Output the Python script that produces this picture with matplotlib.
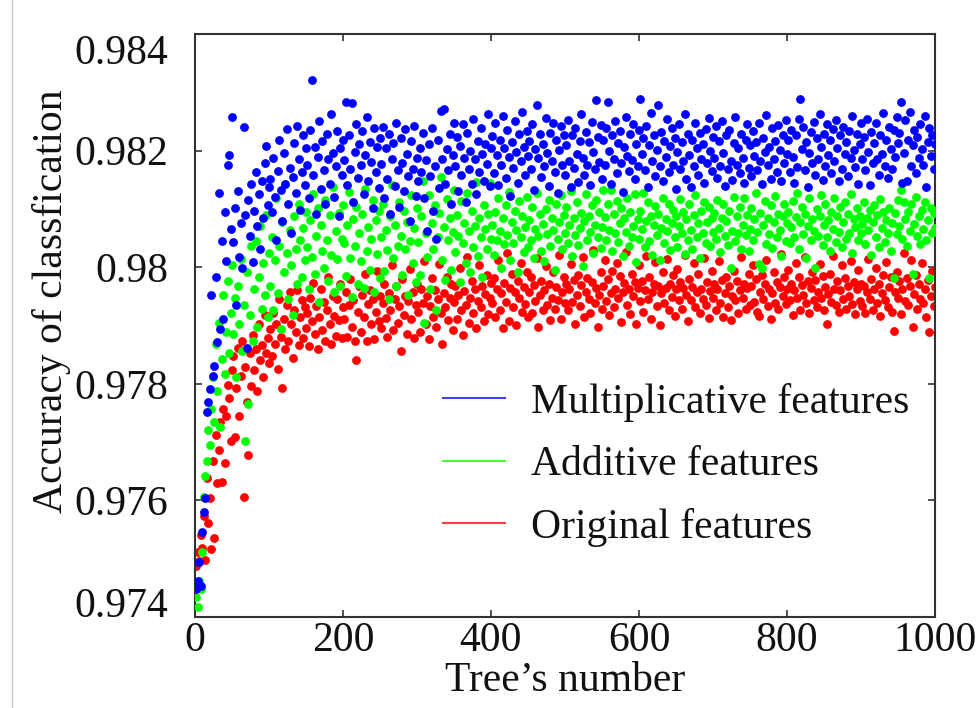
import numpy as np
import matplotlib
matplotlib.use('Agg')
import matplotlib.pyplot as plt
from matplotlib.lines import Line2D

# ---------------- data (every 2nd tree) ----------------
MULT = [
.97448,.97462,.97495,.97453,.97545,.97580,.97604,.97752,.97768,.97791,.97952,.97814,.97831,.97983,.97872,.98128,.97894,.98045,.97912,.98095,.98010,.98175,.98192,.98066,.98257,
.98044,.98102,.97935,.98131,.98018,.98076,.97998,.98241,.98089,.97862,.98115,.98054,.98142,.98009,.98097,.98163,.98071,.98125,.98032,.98148,.98084,.98179,.98208,.98106,.98137,
.98152,.98094,.98187,.98121,.98046,.98165,.98218,.98133,.98079,.98196,.98142,.98237,.98108,.98171,.98059,.98154,.98213,.98127,.98242,.98185,.98098,.98163,.98226,.98141,.98204,
.98175,.98119,.98236,.98321,.98158,.98207,.98092,.98189,.98251,.98134,.98216,.98167,.98109,.98228,.98185,.98143,.98262,.98196,.98121,.98174,.98233,.98088,.98205,.98158,.98219,
.98184,.98283,.98141,.98227,.98169,.98281,.98112,.98198,.98246,.98153,.98211,.98176,.98234,.98125,.98193,.98258,.98147,.98215,.98181,.98102,.98239,.98164,.98206,.98136,.98222,
.98177,.98241,.98118,.98205,.98152,.98229,.98091,.98186,.98213,.98139,.98248,.98167,.98104,.98221,.98178,.98131,.98237,.98194,.98157,.98079,.98216,.98169,.98243,.98122,.98188,
.98147,.98205,.98163,.98231,.98118,.98184,.98062,.98212,.98156,.98238,.98097,.98173,.98049,.98219,.98135,.98268,.98186,.98271,.98142,.98203,.98166,.98229,.98108,.98192,.98247,
.98174,.98223,.98131,.98208,.98159,.98246,.98187,.98112,.98231,.98168,.98199,.98142,.98254,.98185,.98126,.98217,.98163,.98238,.98195,.98148,.98211,.98177,.98262,.98139,.98204,
.98225,.98162,.98247,.98193,.98141,.98218,.98176,.98259,.98204,.98153,.98236,.98189,.98122,.98214,.98171,.98251,.98198,.98145,.98229,.98183,.98266,.98207,.98158,.98234,.98191,
.98216,.98168,.98245,.98132,.98203,.98278,.98187,.98229,.98154,.98212,.98173,.98256,.98196,.98139,.98231,.98182,.98247,.98164,.98219,.98128,.98201,.98243,.98175,.98226,.98158,
.98209,.98252,.98183,.98137,.98226,.98171,.98238,.98194,.98146,.98217,.98263,.98188,.98159,.98232,.98176,.98214,.98141,.98249,.98197,.98168,.98287,.98223,.98181,.98244,.98152,
.98218,.98175,.98239,.98284,.98199,.98143,.98227,.98186,.98251,.98162,.98213,.98234,.98178,.98129,.98206,.98257,.98191,.98165,.98228,.98184,.98246,.98152,.98211,.98173,.98236,
.98288,.98195,.98221,.98167,.98243,.98138,.98209,.98264,.98182,.98226,.98157,.98201,.98279,.98174,.98232,.98148,.98217,.98189,.98255,.98163,.98208,.98239,.98176,.98221,.98134,
.98197,.98245,.98169,.98214,.98182,.98262,.98151,.98228,.98193,.98137,.98219,.98173,.98248,.98205,.98158,.98231,.98186,.98212,.98144,.98237,.98178,.98256,.98199,.98165,.98224,
.98187,.98242,.98153,.98216,.98174,.98251,.98196,.98139,.98227,.98168,.98235,.98182,.98149,.98213,.98258,.98176,.98204,.98161,.98229,.98187,.98145,.98218,.98246,.98171,.98209,
.98156,.98233,.98191,.98214,.98167,.98248,.98183,.98142,.98222,.98198,.98261,.98175,.98207,.98152,.98239,.98186,.98217,.98164,.98244,.98201,.98147,.98226,.98179,.98253,.98194,
.98218,.98163,.98236,.98189,.98145,.98227,.98172,.98255,.98288,.98203,.98241,.98166,.98214,.98137,.98196,.98232,.98178,.98249,.98158,.98221,.98185,.98263,.98207,.98149,.98229,
.98174,.98246,.98192,.98218,.98161,.98237,.98183,.98252,.98205,.98147,.98226,.98169,.98241,.98194,.98215,.98156,.98233,.98188,.98259,.98201,.98172,.98228,.98143,.98211,.98247,
.98185,.98223,.98167,.98254,.98198,.98141,.98232,.98179,.98213,.98248,.98186,.98159,.98227,.98195,.98264,.98174,.98219,.98153,.98241,.98202,.98168,.98236,.98189,.98257,.98213,
.98231,.98283,.98144,.98196,.98252,.98147,.98218,.98267,.98173,.98209,.98235,.98161,.98224,.98188,.98246,.98203,.98175,.98259,.98137,.98214,.98238,.98191,.98227,.98169,.98212,
]

ADD = [
.97435,.97418,.97462,.97448,.97512,.97606,.97642,.97668,.97721,.97695,.97756,.97812,.97734,.97868,.97788,.97905,.97726,.97843,.97952,.97817,.97889,.97976,.97852,.97921,.98003,
.97885,.97947,.97812,.97968,.97903,.98014,.97856,.97935,.97702,.97991,.97765,.97918,.98036,.97874,.97962,.98045,.97897,.97983,.98071,.97929,.98008,.97952,.98089,.97915,.98024,
.97968,.98052,.97927,.98013,.98118,.97955,.98036,.97894,.98077,.97991,.98142,.98025,.97946,.98063,.98004,.97918,.98087,.98031,.97972,.98109,.98046,.97983,.98068,.98012,.98094,
.98035,.97962,.98081,.98017,.98126,.97989,.98054,.98102,.97941,.98073,.98028,.97998,.98115,.98046,.97976,.98089,.98021,.98137,.97958,.98062,.98014,.98093,.97967,.98048,.98106,
.98041,.97985,.98072,.98129,.98016,.97949,.98083,.98037,.98104,.97972,.98058,.98011,.98092,.97964,.98134,.98027,.98069,.97996,.98048,.98115,.97958,.98081,.98023,.98097,.97981,
.98052,.98108,.97993,.98064,.98029,.97946,.98087,.98141,.98015,.98073,.97968,.98036,.98112,.98054,.97987,.98096,.98031,.98078,.97952,.98045,.98123,.98008,.98067,.97974,.98101,
.98043,.97986,.98088,.98147,.97905,.98059,.98018,.98124,.97962,.98075,.98032,.98106,.97927,.98051,.98093,.98154,.98012,.98069,.97978,.98117,.98047,.98084,.97995,.98061,.98132,
.98026,.98089,.98054,.97974,.98113,.98041,.98076,.98008,.98128,.98062,.97991,.98097,.98035,.98071,.98146,.98019,.98084,.98052,.97983,.98107,.98066,.98031,.98092,.98145,.98048,
.98073,.98021,.98094,.98047,.98118,.98062,.97998,.98085,.98039,.98107,.98056,.98129,.98012,.98078,.98041,.98096,.98064,.97992,.98113,.98052,.98087,.98026,.98069,.98121,.98034,
.98081,.98047,.98103,.98015,.98066,.98128,.98053,.98092,.98028,.98074,.98011,.98099,.98057,.98116,.98036,.98085,.98063,.97995,.98108,.98049,.98077,.98124,.98032,.98089,.98058,
.98103,.98041,.98072,.98131,.98019,.98084,.98055,.98112,.98038,.98067,.98093,.98002,.98079,.98125,.98046,.98088,.98061,.98107,.98024,.98073,.98116,.98051,.98095,.98033,.98069,
.98132,.98086,.98047,.98109,.98064,.98133,.98027,.98091,.98058,.98114,.98043,.98076,.98102,.98019,.98085,.98061,.98118,.98037,.98094,.98052,.98071,.98126,.98009,.98083,.98048,
.98097,.98066,.98127,.98034,.98079,.98112,.98045,.98088,.98021,.98073,.98105,.98056,.98092,.98013,.98068,.98119,.98041,.98083,.98062,.98109,.98029,.98076,.98098,.98051,.98087,
.98035,.98071,.98117,.98058,.98094,.98023,.98082,.98046,.98108,.98064,.98031,.98089,.98123,.98052,.98075,.98016,.98097,.98059,.98111,.98042,.98078,.98103,.98036,.98084,.98061,
.98093,.98048,.98115,.98067,.98026,.98084,.98109,.98053,.98079,.98038,.98096,.97999,.98062,.98121,.98045,.98087,.98058,.98104,.98032,.98073,.98118,.98055,.98089,.98027,.98066,
.98101,.98047,.98082,.98128,.98061,.98006,.98093,.97999,.98072,.98114,.98039,.98085,.98057,.98106,.98033,.98078,.98122,.98051,.98091,.98064,.98019,.98087,.98108,.98045,.98076,
.98094,.98041,.98069,.98113,.98052,.98086,.98127,.98031,.98078,.98104,.98057,.98092,.98015,.98071,.98118,.98046,.98083,.98062,.97998,.98099,.98054,.98087,.98124,.98038,.98073,
.98109,.98052,.98081,.98027,.98095,.98066,.98119,.98043,.98088,.98061,.98104,.98035,.98077,.98112,.98049,.98091,.98058,.98126,.98024,.98083,.98069,.98101,.98046,.98087,.98058,
.98074,.98112,.98039,.98085,.98063,.98098,.98021,.98077,.98106,.98052,.98089,.98035,.98117,.98068,.98094,.98043,.98081,.98059,.98102,.98028,.98076,.97982,.98093,.98057,.98115,
.98071,.98132,.98048,.98111,.98083,.98036,.98095,.98062,.98108,.97989,.98074,.98121,.98053,.98087,.98039,.98098,.98066,.98112,.98047,.98081,.97981,.98102,.98059,.98093,.98068,
]

ORIG = [
.97487,.97512,.97496,.97541,.97518,.97573,.97498,.97639,.97562,.97604,.97517,.97668,.97535,.97712,.97629,.97687,.97734,.97631,.97756,.97664,.97745,.97798,.97776,.97702,.97823,
.97848,.97708,.97792,.97861,.97745,.97813,.97874,.97606,.97829,.97768,.97678,.97852,.97796,.97883,.97824,.97859,.97787,.97902,.97841,.97866,.97812,.97918,.97853,.97879,.97835,
.97894,.97847,.97921,.97868,.97903,.97826,.97945,.97881,.97793,.97912,.97859,.97936,.97874,.97958,.97902,.97845,.97927,.97889,.97961,.97867,.97914,.97943,.97878,.97932,.97896,
.97922,.97865,.97948,.97907,.97973,.97886,.97934,.97859,.97915,.97962,.97892,.97941,.97874,.97926,.97984,.97903,.97868,.97951,.97917,.97882,.97945,.97909,.97971,.97878,.97931,
.97912,.97958,.97881,.97936,.97979,.97897,.97944,.97873,.97841,.97923,.97967,.97889,.97952,.97915,.97988,.97874,.97937,.97961,.97902,.97946,.97877,.97924,.97993,.97908,.97951,
.97896,.97938,.97972,.97913,.97881,.97955,.97927,.98004,.97892,.97946,.97968,.97904,.97933,.97857,.97979,.97918,.97951,.97886,.97942,.97997,.97911,.97958,.97879,.97936,.97971,
.97924,.97889,.97962,.97938,.98011,.97903,.97951,.97876,.97934,.97982,.97915,.97961,.97897,.97945,.98005,.97921,.97868,.97956,.97932,.97984,.97909,.97948,.97972,.97893,.97941,
.97967,.97912,.97953,.97998,.97926,.97884,.97959,.97935,.98017,.97904,.97948,.97976,.97921,.97963,.97895,.97942,.98003,.97931,.97968,.97907,.97954,.97986,.97919,.97947,.97973,
.97938,.97981,.97914,.97962,.98012,.97927,.97955,.97896,.97973,.97941,.98024,.97908,.97964,.97989,.97932,.97957,.97901,.97976,.97948,.98008,.97923,.97966,.97937,.97992,.97915,
.97958,.97984,.97921,.97969,.97942,.98015,.97898,.97953,.97977,.97926,.97961,.98002,.97935,.97972,.97909,.97948,.97991,.97929,.97966,.97944,.98021,.97912,.97957,.97983,.97938,
.97971,.97926,.97963,.98006,.97941,.97978,.97903,.97952,.97987,.97934,.97969,.98018,.97915,.97957,.97982,.97946,.97921,.97974,.98029,.97939,.97965,.97898,.97953,.97991,.97928,
.97967,.98013,.97942,.97979,.97918,.97956,.97994,.97931,.97963,.98008,.97947,.97985,.97906,.97958,.97973,.98026,.97936,.97962,.97919,.97988,.97951,.97974,.97902,.97965,.98004,
.97942,.97977,.97923,.97961,.98019,.97946,.97983,.97911,.97958,.97972,.98009,.97934,.97968,.97901,.97955,.97991,.97938,.97964,.98014,.97927,.97971,.97949,.97986,.97916,.97962,
.97997,.97943,.97975,.97928,.97964,.98021,.97952,.97908,.97979,.97944,.97966,.98007,.97931,.97958,.97989,.97921,.97963,.97945,.98016,.97936,.97974,.97913,.97959,.97993,.97948,
.97971,.97926,.97962,.98011,.97939,.97978,.97915,.97956,.97984,.97932,.97967,.97909,.97951,.97993,.97943,.97976,.97921,.97961,.98018,.97947,.97972,.97928,.97965,.97989,.97936,
.97968,.98004,.97941,.97979,.97923,.97917,.97958,.97986,.97946,.97971,.98013,.97934,.97962,.97911,.97955,.97992,.97938,.97974,.97929,.97966,.98022,.97951,.97984,.97937,.97963,
.97995,.97944,.97972,.97918,.97961,.98008,.97947,.97983,.97926,.97969,.97952,.98017,.97938,.97976,.97921,.97964,.97991,.97943,.97978,.97931,.97958,.98006,.97948,.97985,.97927,
.97966,.97903,.97954,.97989,.97941,.98019,.97962,.97935,.97977,.97924,.97961,.98003,.97946,.97982,.97929,.97968,.97951,.98011,.97937,.97974,.97919,.97963,.97995,.97942,.97971,
.97934,.97968,.97921,.97957,.98014,.97945,.97979,.97926,.97963,.97998,.97939,.97972,.97916,.97955,.97987,.97943,.98009,.97931,.97966,.97984,.97924,.97891,.97958,.97992,.97947,
.97976,.97919,.97963,.98024,.97942,.97981,.97935,.97968,.98012,.97897,.97954,.97986,.97928,.97971,.97945,.98007,.97939,.97962,.97914,.97978,.97888,.97951,.97993,.97933,.97966,
]

SERIES_NAMES = ['Multiplicative features', 'Additive features', 'Original features']
SERIES_COLORS = ['#0000ff', '#00ff00', '#ff0000']

XTICKS = [0, 200, 400, 600, 800, 1000]
XTICKLABELS = ['0', '200', '400', '600', '800', '1000']
YTICKS = [0.974, 0.976, 0.978, 0.980, 0.982, 0.984]
YTICKLABELS = ['0.974', '0.976', '0.978', '0.98', '0.982', '0.984']

XLABEL = 'Tree\u2019s number'
YLABEL = 'Accuracy of classfication'

# ---------------- figure ----------------
plt.rcParams['font.family'] = ['Liberation Serif', 'DejaVu Serif']

W, H = 979, 708
fig = plt.figure(figsize=(W / 100, H / 100), dpi=100)
L, R, T, B = 195, 935, 34, 617
ax = fig.add_axes([L / W, 1 - B / H, (R - L) / W, (B - T) / H])

series = [MULT, ADD, ORIG]
# draw original first, then additive, then multiplicative on top
for idx in [2, 1, 0]:
    vals = np.asarray(series[idx], dtype=float)
    trees = np.arange(2, 2 * len(vals) + 1, 2)
    ax.scatter(trees, vals, s=40, c=SERIES_COLORS[idx], linewidths=0,
               zorder=2 + (2 - idx), clip_on=True)

ax.set_xlim(0, 1000)
ax.set_ylim(0.974, 0.984)
ax.set_xticks(XTICKS)
ax.set_xticklabels(XTICKLABELS)
ax.set_yticks(YTICKS)
ax.set_yticklabels(YTICKLABELS)

for sp in ax.spines.values():
    sp.set_linewidth(1.5)
    sp.set_color('#333333')

ax.tick_params(direction='in', top=True, right=True, length=5, width=1.2,
               color='#333333', labelsize=30, labelcolor='#111111')
ax.tick_params(axis='y', pad=19)
ax.tick_params(axis='x', pad=3)

ylabels = ax.get_yticklabels()
ylabels[-1].set_va('top')
ylabels[0].set_va('baseline')

ax.set_xlabel(XLABEL, fontsize=30, color='#111111', labelpad=1)
fig.text(52 / W, 1 - 301 / H, YLABEL, rotation=90, ha='center', va='center',
         fontsize=30, color='#111111')

handles = [Line2D([0], [0], color=c, lw=1.5, alpha=0.75) for c in SERIES_COLORS]
ax.legend(handles, SERIES_NAMES, loc='upper left',
          bbox_to_anchor=(443 / W, 1 - 383 / H), bbox_transform=fig.transFigure,
          frameon=False, fontsize=30, handlelength=1.5, handletextpad=0.62,
          labelspacing=0.57, borderpad=0, borderaxespad=0, labelcolor='#111111')

fig.add_artist(Line2D([12 / W, 12 / W], [0, 1], transform=fig.transFigure,
                      color='#c8c8c8', lw=1))

fig.savefig('out.png', dpi=100)
